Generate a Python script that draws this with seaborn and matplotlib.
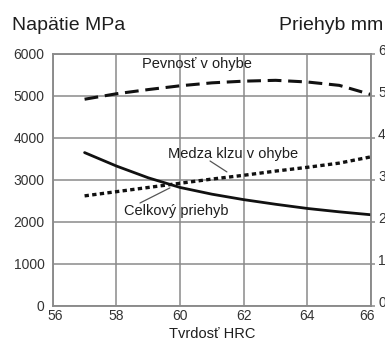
import matplotlib
matplotlib.use("Agg")
import matplotlib.pyplot as plt
import matplotlib.transforms as mtransforms
import seaborn as sns
import pandas as pd

# ---- data ----
hrc = [57, 58, 59, 60, 61, 62, 63, 64, 65, 66]
pevnost = [4920, 5050, 5150, 5240, 5310, 5350, 5370, 5330, 5250, 5030]   # MPa
medza = [2620, 2720, 2820, 2920, 3020, 3110, 3210, 3300, 3400, 3550]     # MPa
priehyb = [3.65, 3.33, 3.05, 2.82, 2.66, 2.53, 2.42, 2.32, 2.24, 2.17]   # mm

x_ticks = [56, 58, 60, 62, 64, 66]
y_ticks = [0, 1000, 2000, 3000, 4000, 5000, 6000]
y2_ticks = [0, 1, 2, 3, 4, 5, 6]

df = pd.DataFrame({"hrc": hrc, "pevnost": pevnost, "medza": medza, "priehyb": priehyb})

sns.set_style("white")
plt.rcParams["font.family"] = ["Liberation Sans", "DejaVu Sans"]

fig = plt.figure(figsize=(3.85, 3.43), dpi=100)
ax = fig.add_axes([0.137, 0.108, 0.827, 0.735])
ax2 = ax.twinx()

grid_c = "#8a8a8a"
txt_c = "#1e1e1e"
tick_c = "#333333"

sns.lineplot(data=df, x="hrc", y="pevnost", ax=ax, color="#111111", lw=2.2,
             linestyle=(0, (4.5, 2.2)))
sns.lineplot(data=df, x="hrc", y="medza", ax=ax, color="#111111", lw=2.4,
             linestyle=(0, (1.3, 1.0)))
sns.lineplot(data=df, x="hrc", y="priehyb", ax=ax2, color="#111111", lw=2.0)

ax.set_xlim(56, 66)
ax.set_ylim(0, 6000)
ax2.set_ylim(0, 6)
ax.set_xticks(x_ticks)
ax.set_yticks(y_ticks)
ax2.set_yticks(y2_ticks)
ax.set_xticklabels([str(v) for v in x_ticks])
ax.set_yticklabels([str(v) for v in y_ticks])
ax2.set_yticklabels([str(v) for v in y2_ticks])

ax.grid(True, color=grid_c, lw=1.1)
ax.set_axisbelow(True)
for a in (ax, ax2):
    for s in a.spines.values():
        s.set_color(grid_c)
        s.set_linewidth(1.1)
        s.set_visible(True)

ax.tick_params(axis="both", length=0, labelsize=10, labelcolor=tick_c)
ax.tick_params(axis="y", pad=6)
ax.tick_params(axis="x", pad=2)
ax2.tick_params(axis="y", length=3, width=1.1, color=grid_c, labelsize=10,
                labelcolor=tick_c, pad=2)
for lab in ax2.get_yticklabels():
    lab.set_transform(lab.get_transform() +
                      mtransforms.ScaledTranslation(0, 3 / 72, fig.dpi_scale_trans))
xl = ax.get_xticklabels()
xl[0].set_transform(xl[0].get_transform() +
                    mtransforms.ScaledTranslation(2 / 72, 0, fig.dpi_scale_trans))
xl[-1].set_transform(xl[-1].get_transform() +
                     mtransforms.ScaledTranslation(-3 / 72, 0, fig.dpi_scale_trans))

ax.set_xlabel("Tvrdosť HRC", fontsize=10.5, color=txt_c, labelpad=3)
ax.set_ylabel("")
ax2.set_ylabel("")

# annotations
ax.text(60.53, 5760, "Pevnosť v ohybe", ha="center", va="center", fontsize=10.5, color=txt_c)
ax.text(61.66, 3620, "Medza klzu v ohybe", ha="center", va="center", fontsize=10.5, color=txt_c)
ax.text(59.87, 2260, "Celkový priehyb", ha="center", va="center", fontsize=10.5, color=txt_c)
ax.plot([60.94, 61.47], [3450, 3190], color="#555555", lw=0.9)
ax.plot([58.74, 59.68], [2450, 2810], color="#555555", lw=0.9)

fig.text(12 / 385, 1 - 25 / 343, "Napätie MPa", ha="left", va="center", fontsize=14, color=txt_c)
fig.text(383 / 385, 1 - 25 / 343, "Priehyb mm", ha="right", va="center", fontsize=14, color=txt_c)

fig.savefig("out.png", dpi=100)
